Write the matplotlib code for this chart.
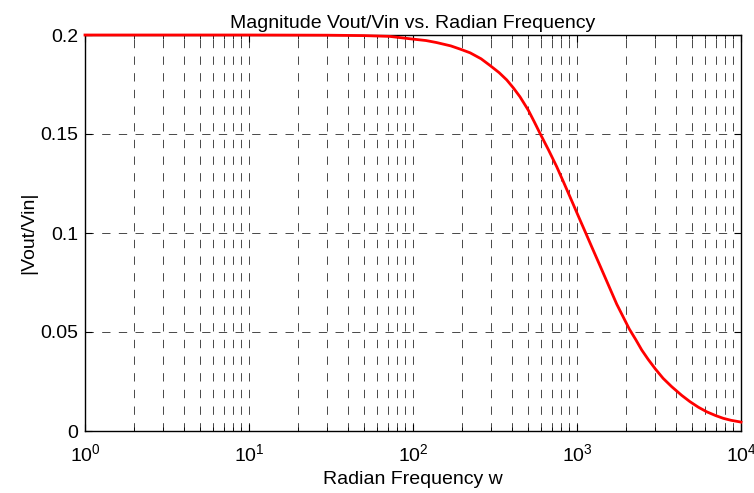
import matplotlib
matplotlib.use("Agg")
import matplotlib.pyplot as plt
from matplotlib.ticker import FixedLocator, FormatStrFormatter, LogLocator

# values
w = [1, 10, 30, 50, 72, 98, 120, 139, 170, 195, 223, 260, 295, 335, 373,
     410, 449, 505, 550, 595, 670, 752, 830, 906, 1043, 1140, 1230, 1381,
     1553, 1746, 2084, 2280, 2482, 2720, 3000, 3350, 3778, 4350,
     4887, 5500, 6180, 7000, 7800, 8700, 10000]
mag = [0.2, 0.2, 0.1999, 0.1997, 0.1993, 0.1980, 0.1972, 0.1962, 0.1945,
       0.1928, 0.1910, 0.1880, 0.1846, 0.1810, 0.1773, 0.1732, 0.1688,
       0.1620, 0.1560, 0.1503, 0.1420, 0.1335, 0.1255, 0.1183, 0.1066,
       0.0993, 0.0930, 0.0835, 0.0738, 0.0641, 0.0515, 0.0462, 0.0409,
       0.0361, 0.0314, 0.0266, 0.0224, 0.0180, 0.0148, 0.0120,
       0.0097, 0.0078, 0.0064, 0.0054, 0.0045]
y_ticks = [0, 0.05, 0.1, 0.15, 0.2]

plt.rcParams['font.family'] = ['Liberation Sans', 'DejaVu Sans']
plt.rcParams['mathtext.fontset'] = 'custom'
plt.rcParams['mathtext.rm'] = 'Liberation Sans'
plt.rcParams['mathtext.default'] = 'regular'
plt.rcParams['lines.scale_dashes'] = False

fig = plt.figure(figsize=(7.54, 4.93), dpi=100)
ax = fig.add_axes([85/754, 62/493, 656/754, 396/493])

ax.plot(w, mag, color='red', linewidth=2, zorder=3, clip_on=False)

ax.set_xscale('log')
ax.set_xlim(1, 1e4)
ax.set_ylim(0, 0.2)
ax.yaxis.set_major_locator(FixedLocator(y_ticks))
ax.yaxis.set_major_formatter(FormatStrFormatter('%g'))
ax.xaxis.set_minor_locator(LogLocator(base=10, subs=range(2, 10)))

dash = (0, (6, 6))
ax.grid(True, which='major', color='black', linewidth=0.5, linestyle=dash)
ax.grid(True, which='minor', axis='x', color='black', linewidth=0.5, linestyle=dash)

ax.tick_params(which='both', direction='in', top=True, right=True,
               labelsize=14, colors='black')
ax.tick_params(which='major', length=5)
ax.tick_params(which='minor', length=3)
ax.tick_params(axis='x', pad=9)
ax.tick_params(axis='y', pad=5)
for s in ax.spines.values():
    s.set_linewidth(1)

ax.set_title("Magnitude Vout/Vin vs. Radian Frequency", fontsize=14, pad=5)
ax.set_xlabel("Radian Frequency w", fontsize=14, labelpad=4)
ax.set_ylabel("|Vout/Vin|", fontsize=14, labelpad=2)

fig.savefig("out.png", dpi=100)
